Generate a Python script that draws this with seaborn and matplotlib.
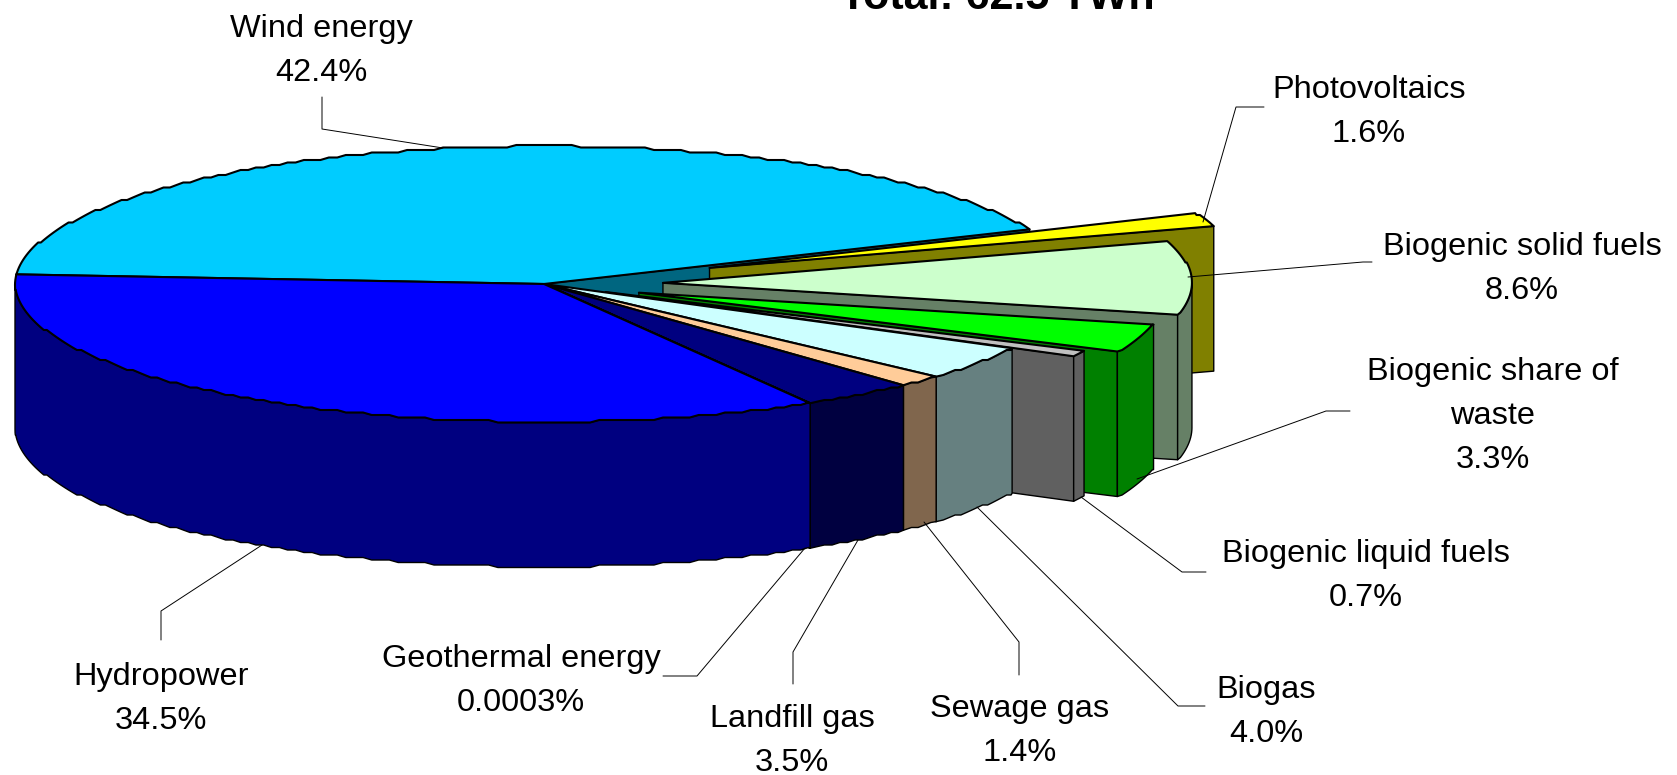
import numpy as np
import matplotlib
matplotlib.use("Agg")
import matplotlib.pyplot as plt
import seaborn as sns

# shares of renewable electricity, clockwise from the left of the pie
sources = ["Wind energy", "Photovoltaics", "Biogenic solid fuels", "Biogenic share of\nwaste",
           "Biogenic liquid fuels", "Biogas", "Sewage gas", "Landfill gas",
           "Geothermal energy", "Hydropower"]
shares = [42.4, 1.6, 8.6, 3.3, 0.7, 4.0, 1.4, 3.5, 0.0003, 34.5]
share_labels = ["42.4%", "1.6%", "8.6%", "3.3%", "0.7%", "4.0%", "1.4%", "3.5%", "0.0003%", "34.5%"]
explode = [0, 0.334, 0.225, 0.19, 0.13, 0, 0, 0, 0, 0]
hex_colors = ["#00CCFF", "#FFFF00", "#CCFFCC", "#00FF00", "#C0C0C0",
              "#CCFFFF", "#FFCC99", "#000080", "#000000", "#0000FF"]
title = "Total: 62.5 TWh"

# pie geometry in pixels
cx, cy = 544, 284
rx, ry = 529, 138
depth = 145
start_angle = 176

# label anchors (centre x, first baseline) and leader lines
label_pos = [(321, 37), (1369, 98), (1522, 255), (1493, 380), (1366, 562),
             (1266, 698), (1020, 717), (792, 727), (521, 667), (161, 685)]
leaders = [
    [(322, 97), (322, 129), (443, 148)],
    [(1264, 107), (1236, 107), (1203, 222)],
    [(1188, 277), (1363, 262), (1372, 262)],
    [(1137, 479), (1326, 411), (1350, 411)],
    [(1081, 497), (1182, 572), (1206, 572)],
    [(977, 507), (1178, 706), (1205, 706)],
    [(924, 522), (1019, 642), (1019, 675)],
    [(858, 540), (793, 652), (793, 684)],
    [(805, 548), (697, 676), (663, 676)],
    [(262, 545), (161, 611), (161, 640)],
]

sns.set_theme(style="white")
plt.rcParams["font.family"] = ["Liberation Sans", "DejaVu Sans"]

top_colors = sns.color_palette(hex_colors)


def arc(x0, y0, t1, t2):
    # the outline in the original is slightly stepped, so snap y to a small grid
    inner = np.arange(np.floor(t1), np.ceil(t2), -1.0)
    inner = inner[(inner < t1) & (inner > t2)]
    t = np.radians(np.r_[t1, inner, t2])
    x = x0 + rx * np.cos(t)
    y = y0 - ry * np.sin(t)
    y[1:-1] = np.round(y[1:-1] / 2.5) * 2.5
    return x, y


def radial_wall(ax, x0, y0, t, color):
    xe = x0 + rx * np.cos(np.radians(t))
    ye = y0 - ry * np.sin(np.radians(t))
    ax.fill([x0, xe, xe, x0], [y0, ye, ye + depth, y0 + depth],
            facecolor=color, edgecolor="black", lw=1.0, joinstyle="round")


fig = plt.figure(figsize=(16.77, 7.75), dpi=100)
ax = fig.add_axes([0, 0, 1, 1])
ax.set_xlim(0, 1677)
ax.set_ylim(775, 0)
ax.axis("off")

sweeps = 360 * np.array(shares) / np.sum(shares)
ends = start_angle - np.cumsum(sweeps)
starts = ends + sweeps

# back to front, in pie order
for i in range(len(shares)):
    t1, t2 = starts[i], ends[i]
    mid = np.radians((t1 + t2) / 2)
    x0 = cx + explode[i] * rx * np.cos(mid)
    y0 = cy - explode[i] * ry * np.sin(mid)
    top = top_colors[i]
    side = tuple(c * 0.5 for c in top)

    # side walls that face the viewer
    if np.cos(np.radians(t1)) < 0:
        radial_wall(ax, x0, y0, t1, side)
    if np.cos(np.radians(t2)) > 0:
        radial_wall(ax, x0, y0, t2, side)

    # outer wall, only the part on the near half of the ellipse
    a1, a2 = min(t1, 0), max(t2, -180)
    if a1 > a2:
        ax_x, ax_y = arc(x0, y0, a1, a2)
        ax.fill(np.r_[ax_x, ax_x[::-1]], np.r_[ax_y, ax_y[::-1] + depth],
                facecolor=side, edgecolor="black", lw=1.0, joinstyle="round")

    # top face
    xs, ys = arc(x0, y0, t1, t2)
    ax.fill(np.r_[x0, xs], np.r_[y0, ys], facecolor=top, edgecolor="black",
            lw=1.5, joinstyle="round")

for line in leaders:
    ax.plot([p[0] for p in line], [p[1] for p in line], color="black", lw=0.7)

for name, pct, (x, y) in zip(sources, share_labels, label_pos):
    for k, txt in enumerate(name.split("\n") + [pct]):
        ax.text(x, y + k * 44, txt, ha="center", va="baseline", fontsize=23.4, color="black")

ax.text(997, 9, title, ha="center", va="baseline", fontsize=31, fontweight="bold", color="black")

fig.savefig("out.png", dpi=100)
